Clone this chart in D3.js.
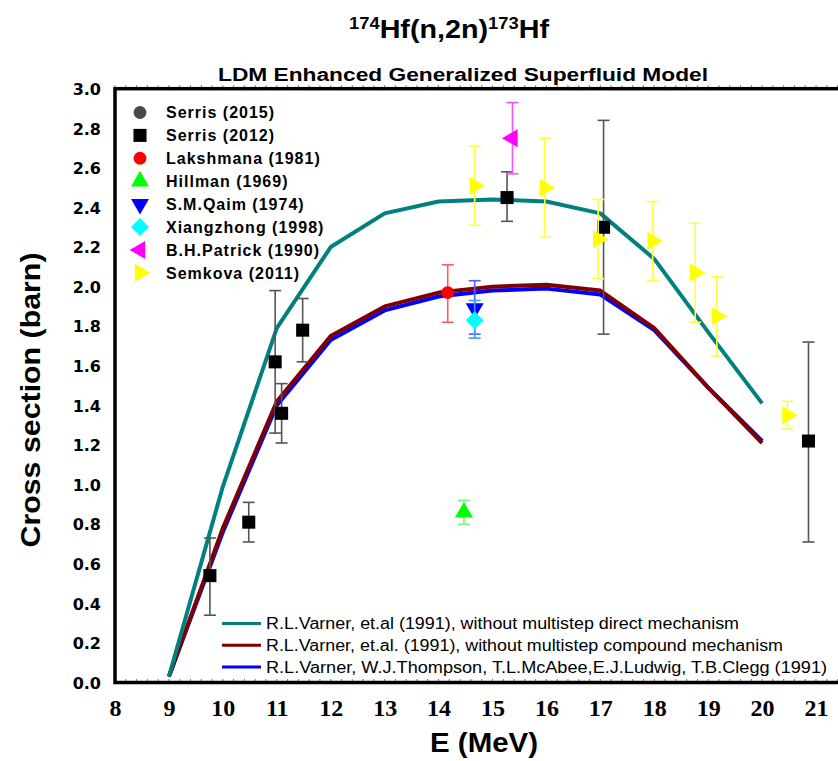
<!DOCTYPE html>
<html>
<head>
<meta charset="utf-8">
<script src="https://cdn.jsdelivr.net/npm/d3@7"></script>
<style>
body { margin: 0; background: #fff; }
svg { display: block; }
</style>
</head>
<body>
<div id="charts"></div>
<script>
// model curves
var energy = [9, 10, 11, 12, 13, 14, 15, 16, 17, 18, 19, 20];
var withoutMSD = [0.03, 0.99, 1.79, 2.20, 2.37, 2.43, 2.44, 2.43, 2.37, 2.14, 1.77, 1.41];
var withoutMSC = [0.03, 0.78, 1.42, 1.75, 1.90, 1.97, 2.00, 2.01, 1.98, 1.79, 1.49, 1.21];
var varnerFull = [0.03, 0.76, 1.40, 1.73, 1.88, 1.95, 1.98, 1.99, 1.96, 1.78, 1.49, 1.22];

// experimental points: energy, value, lower, upper
var serris2015E = [15.27], serris2015Y = [2.45], serris2015Lo = [2.45], serris2015Hi = [2.45];
var serris2012E = [9.76, 10.48, 10.97, 11.09, 11.48, 15.27, 17.06, 20.86];
var serris2012Y = [0.54, 0.81, 1.62, 1.36, 1.78, 2.45, 2.30, 1.22];
var serris2012Lo = [0.34, 0.71, 1.26, 1.21, 1.62, 2.33, 1.76, 0.71];
var serris2012Hi = [0.73, 0.91, 1.98, 1.51, 1.94, 2.58, 2.84, 1.72];
var lakshmanaE = [14.17], lakshmanaY = [1.97], lakshmanaLo = [1.82], lakshmanaHi = [2.11];
var hillmanE = [14.47], hillmanY = [0.86], hillmanLo = [0.80], hillmanHi = [0.92];
var qaimE = [14.67], qaimY = [1.89], qaimLo = [1.76], qaimHi = [2.03];
var xiangE = [14.67], xiangY = [1.83], xiangLo = [1.74], xiangHi = [1.93];
var patrickE = [15.37], patrickY = [2.75], patrickLo = [2.57], patrickHi = [2.93];
var semkovaE = [14.67, 15.97, 16.96, 17.97, 18.76, 19.16, 20.47];
var semkovaY = [2.51, 2.50, 2.24, 2.23, 2.07, 1.85, 1.35];
var semkovaLo = [2.31, 2.25, 2.04, 2.03, 1.82, 1.65, 1.28];
var semkovaHi = [2.71, 2.75, 2.44, 2.43, 2.32, 2.05, 1.42];

var xTicks = [8, 9, 10, 11, 12, 13, 14, 15, 16, 17, 18, 19, 20, 21];
var yTicks = [0, 0.2, 0.4, 0.6, 0.8, 1.0, 1.2, 1.4, 1.6, 1.8, 2.0, 2.2, 2.4, 2.6, 2.8, 3.0];

var svg = d3.select('#charts')
    .append('svg')
    .attr('width', 838)
    .attr('height', 761);

var x = d3.scaleLinear().domain([8, 21.5]).range([115, 843]);
var y = d3.scaleLinear().domain([0, 3]).range([682.5, 88.7]);

// diamond with equal width and height
var squareDiamond = {
    draw: function(context, size) {
        var r = Math.sqrt(size / 2);
        context.moveTo(0, -r);
        context.lineTo(r, 0);
        context.lineTo(0, r);
        context.lineTo(-r, 0);
        context.closePath();
    }
};

var groups = [
    { name: 'Serris (2015)', e: serris2015E, v: serris2015Y, lo: serris2015Lo, hi: serris2015Hi, type: d3.symbolCircle, size: 130, rot: 0, fill: '#4a4a4a', bar: '#555555' },
    { name: 'Serris (2012)', e: serris2012E, v: serris2012Y, lo: serris2012Lo, hi: serris2012Hi, type: d3.symbolSquare, size: 170, rot: 0, fill: '#000000', bar: '#555555' },
    { name: 'Lakshmana (1981)', e: lakshmanaE, v: lakshmanaY, lo: lakshmanaLo, hi: lakshmanaHi, type: d3.symbolCircle, size: 130, rot: 0, fill: '#ff0000', bar: '#ff5a5a' },
    { name: 'Hillman (1969)', e: hillmanE, v: hillmanY, lo: hillmanLo, hi: hillmanHi, type: d3.symbolTriangle, size: 140, rot: 0, fill: '#00ff00', bar: '#70ff70' },
    { name: 'S.M.Qaim (1974)', e: qaimE, v: qaimY, lo: qaimLo, hi: qaimHi, type: d3.symbolTriangle, size: 140, rot: 180, fill: '#0000ff', bar: '#5a5aff' },
    { name: 'Xiangzhong (1998)', e: xiangE, v: xiangY, lo: xiangLo, hi: xiangHi, type: squareDiamond, size: 160, rot: 0, fill: '#00ffff', bar: '#3aa0ff' },
    { name: 'B.H.Patrick (1990)', e: patrickE, v: patrickY, lo: patrickLo, hi: patrickHi, type: d3.symbolTriangle, size: 140, rot: -90, fill: '#ff00ff', bar: '#ff50ff' },
    { name: 'Semkova (2011)', e: semkovaE, v: semkovaY, lo: semkovaLo, hi: semkovaHi, type: d3.symbolTriangle, size: 140, rot: 90, fill: '#ffff00', bar: '#ffff40' }
];

var curves = [
    { name: 'R.L.Varner, W.J.Thompson, T.L.McAbee,E.J.Ludwig, T.B.Clegg (1991)', v: varnerFull, color: '#0000ff', len: 561 },
    { name: 'R.L.Varner, et.al. (1991), without multistep compound mechanism', v: withoutMSC, color: '#800000', len: 517 },
    { name: 'R.L.Varner, et.al (1991), without multistep direct mechanism', v: withoutMSD, color: '#008080', len: 473 }
];

// titles
var title = svg.append('text')
    .attr('x', 449)
    .attr('y', 38)
    .attr('text-anchor', 'middle')
    .style('font-family', 'Liberation Sans, Arial, sans-serif')
    .style('font-weight', 'bold')
    .style('font-size', '25px')
    .attr('textLength', 200)
    .attr('lengthAdjust', 'spacingAndGlyphs');
title.append('tspan').attr('dy', '-9').style('font-size', '16px').text('174');
title.append('tspan').attr('dy', '9').text('Hf(n,2n)');
title.append('tspan').attr('dy', '-9').style('font-size', '16px').text('173');
title.append('tspan').attr('dy', '9').text('Hf');

svg.append('text')
    .attr('x', 463)
    .attr('y', 81)
    .attr('text-anchor', 'middle')
    .style('font-family', 'Liberation Sans, Arial, sans-serif')
    .style('font-weight', 'bold')
    .style('font-size', '18px')
    .attr('textLength', 490)
    .attr('lengthAdjust', 'spacingAndGlyphs')
    .text('LDM Enhanced Generalized Superfluid Model');

// minor ticks on top and bottom frame
var minor = d3.range(8, 21.6, 0.2);
svg.append('g').selectAll('line')
    .data(minor)
    .enter().append('line')
    .attr('x1', function(d) { return x(d); })
    .attr('x2', function(d) { return x(d); })
    .attr('y1', y(3) - 3.5)
    .attr('y2', y(3))
    .style('stroke', '#777')
    .style('stroke-width', 1);
svg.append('g').selectAll('line')
    .data(minor)
    .enter().append('line')
    .attr('x1', function(d) { return x(d); })
    .attr('x2', function(d) { return x(d); })
    .attr('y1', y(0) - 3.5)
    .attr('y2', y(0))
    .style('stroke', '#777')
    .style('stroke-width', 1);

// axes
var xAxis = svg.append('g')
    .attr('transform', 'translate(0,' + y(0) + ')')
    .call(d3.axisBottom(x).tickValues(xTicks).tickSize(0).tickPadding(0).tickFormat(d3.format('d')));
xAxis.select('.domain').remove();
xAxis.selectAll('text')
    .attr('y', 33)
    .attr('dy', 0)
    .style('font-family', 'Liberation Serif, Times New Roman, serif')
    .style('font-weight', 'bold')
    .style('font-size', '24px')
    .style('fill', '#000');

var yAxis = svg.append('g')
    .attr('transform', 'translate(' + x(8) + ',0)')
    .call(d3.axisLeft(y).tickValues(yTicks).tickSize(0).tickFormat(d3.format('.1f')));
yAxis.select('.domain').remove();
yAxis.selectAll('text')
    .attr('x', -14)
    .attr('dy', '0.36em')
    .style('font-family', 'DejaVu Sans, sans-serif')
    .style('font-weight', 'bold')
    .style('font-size', '16px')
    .style('fill', '#000');

svg.append('text')
    .attr('transform', 'translate(40,400) rotate(-90)')
    .attr('text-anchor', 'middle')
    .style('font-family', 'Liberation Sans, Arial, sans-serif')
    .style('font-weight', 'bold')
    .style('font-size', '28px')
    .attr('textLength', 295)
    .attr('lengthAdjust', 'spacingAndGlyphs')
    .text('Cross section (barn)');

svg.append('text')
    .attr('x', 484)
    .attr('y', 752)
    .attr('text-anchor', 'middle')
    .style('font-family', 'Liberation Sans, Arial, sans-serif')
    .style('font-weight', 'bold')
    .style('font-size', '28px')
    .attr('textLength', 108)
    .attr('lengthAdjust', 'spacingAndGlyphs')
    .text('E (MeV)');

// model lines
var line = d3.line()
    .x(function(d) { return x(d[0]); })
    .y(function(d) { return y(d[1]); });

curves.forEach(function(c) {
    svg.append('path')
        .datum(d3.zip(energy, c.v))
        .attr('d', line)
        .style('fill', 'none')
        .style('stroke', c.color)
        .style('stroke-width', 4)
        .style('stroke-linejoin', 'round');
});

// error bars and markers
groups.forEach(function(g) {
    var pts = g.e.map(function(e, i) { return { e: e, v: g.v[i], lo: g.lo[i], hi: g.hi[i] }; });
    var bars = svg.append('g')
        .style('stroke', g.bar)
        .style('stroke-width', 1.6);
    pts.forEach(function(d) {
        if (d.hi === d.lo) return;
        bars.append('line').attr('x1', x(d.e)).attr('x2', x(d.e)).attr('y1', y(d.lo)).attr('y2', y(d.hi));
        bars.append('line').attr('x1', x(d.e) - 6).attr('x2', x(d.e) + 6).attr('y1', y(d.lo)).attr('y2', y(d.lo));
        bars.append('line').attr('x1', x(d.e) - 6).attr('x2', x(d.e) + 6).attr('y1', y(d.hi)).attr('y2', y(d.hi));
    });
    svg.append('g').selectAll('path')
        .data(pts)
        .enter().append('path')
        .attr('d', d3.symbol().type(g.type).size(g.size))
        .attr('transform', function(d) { return 'translate(' + x(d.e) + ',' + y(d.v) + ') rotate(' + g.rot + ')'; })
        .style('fill', g.fill);
});

// frame
svg.append('rect')
    .attr('x', x(8))
    .attr('y', y(3))
    .attr('width', 845 - x(8))
    .attr('height', y(0) - y(3))
    .style('fill', 'none')
    .style('stroke', '#000')
    .style('stroke-width', 3.5);

// marker legend
groups.forEach(function(g, i) {
    var yy = 112.5 + i * 22.9;
    svg.append('path')
        .attr('d', d3.symbol().type(g.type).size(g.size))
        .attr('transform', 'translate(140,' + yy + ') rotate(' + g.rot + ')')
        .style('fill', g.fill);
    svg.append('text')
        .attr('x', 166)
        .attr('y', yy)
        .attr('dy', '0.36em')
        .style('font-family', 'Liberation Sans, Arial, sans-serif')
        .style('font-weight', 'bold')
        .style('font-size', '16px')
        .style('letter-spacing', '1px')
        .text(g.name);
});

// line legend
var lineRows = [curves[2], curves[1], curves[0]];
lineRows.forEach(function(c, i) {
    var yy = 623.5 + i * 21.8;
    svg.append('line')
        .attr('x1', 222).attr('x2', 261)
        .attr('y1', yy).attr('y2', yy)
        .style('stroke', c.color)
        .style('stroke-width', 3);
    svg.append('text')
        .attr('x', 266)
        .attr('y', yy)
        .attr('dy', '0.36em')
        .style('font-family', 'Liberation Sans, Arial, sans-serif')
        .style('font-size', '16px')
        .attr('textLength', c.len)
        .attr('lengthAdjust', 'spacingAndGlyphs')
        .text(c.name);
});
</script>
</body>
</html>
